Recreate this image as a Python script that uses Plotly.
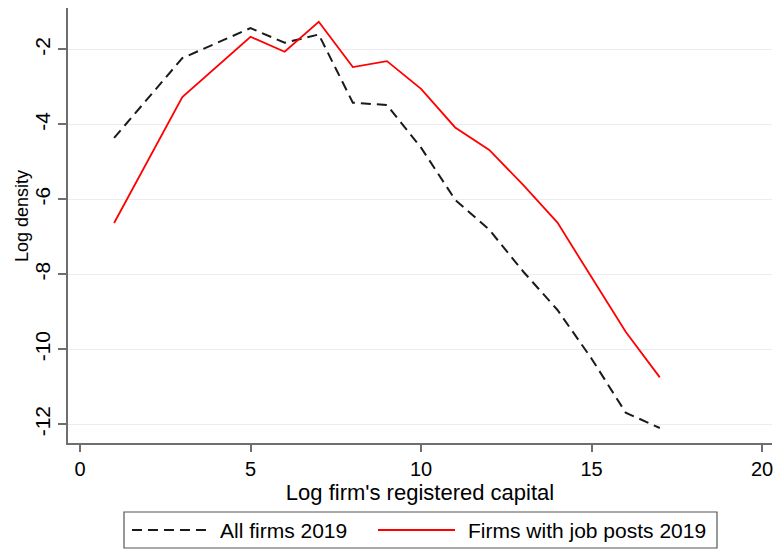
import plotly.graph_objects as go

# ---- data ----
x_all = [1, 3, 5, 6, 7, 8, 9, 10, 11, 12, 13, 14, 15, 16, 17]
y_all = [-4.36, -2.23, -1.43, -1.82, -1.60, -3.42, -3.48, -4.62, -6.01, -6.81,
         -7.93, -8.95, -10.25, -11.69, -12.10]

x_job = [1, 3, 5, 6, 7, 8, 9, 10, 11, 12, 13, 14, 15, 16, 17]
y_job = [-6.63, -3.27, -1.66, -2.06, -1.26, -2.47, -2.31, -3.05, -4.08, -4.68,
         -5.62, -6.62, -8.08, -9.53, -10.75]

name_all = "All firms 2019"
name_job = "Firms with job posts 2019"

x_ticks = [0, 5, 10, 15, 20]
y_ticks = [-2, -4, -6, -8, -10, -12]

FONT = "Liberation Sans, Arial, sans-serif"
AXIS_COL = "#6e6e6e"
GRID_COL = "#ebebf0"

fig = go.Figure()
fig.add_trace(go.Scatter(x=x_all, y=y_all, mode="lines", name=name_all,
                         line=dict(color="#1a1a1a", width=2, dash="10px,6px"),
                         showlegend=False))
fig.add_trace(go.Scatter(x=x_job, y=y_job, mode="lines", name=name_job,
                         line=dict(color="#ff0000", width=1.8),
                         showlegend=False))

# ---- manual legend (Stata style box at the bottom) ----
L, R, T, B = 68, 772, 8, 443
W, H = R - L, B - T
def px(xp):
    return (xp - L) / W
def py(yp):
    return (B - yp) / H

fig.add_shape(type="rect", xref="paper", yref="paper",
              x0=px(124), x1=px(717), y0=py(548), y1=py(512),
              line=dict(color="#555555", width=1.2), fillcolor="white")
fig.add_shape(type="line", xref="paper", yref="paper",
              x0=px(132), x1=px(208), y0=py(530), y1=py(530),
              line=dict(color="#1a1a1a", width=2, dash="10px,6px"))
fig.add_shape(type="line", xref="paper", yref="paper",
              x0=px(378), x1=px(455), y0=py(530), y1=py(530),
              line=dict(color="#ff0000", width=1.8))
fig.add_annotation(xref="paper", yref="paper", x=px(218), y=py(530),
                   xanchor="left", yanchor="middle", text=name_all,
                   showarrow=False, font=dict(size=21, color="black", family=FONT))
fig.add_annotation(xref="paper", yref="paper", x=px(466), y=py(530),
                   xanchor="left", yanchor="middle", text=name_job,
                   showarrow=False, font=dict(size=21, color="black", family=FONT))

# y-axis title placed as Stata does
fig.add_annotation(xref="paper", yref="paper", x=px(22), y=py(216),
                   xanchor="center", yanchor="middle", text="Log density",
                   textangle=-90, showarrow=False,
                   font=dict(size=18, color="black", family=FONT))

fig.update_layout(
    width=774, height=550,
    margin=dict(l=L, r=774 - R, t=T, b=550 - B),
    paper_bgcolor="white", plot_bgcolor="white",
    font=dict(family=FONT, color="black"),
    showlegend=False,
)
fig.update_xaxes(
    range=[-0.352, 20.29], tickvals=x_ticks, ticktext=[str(v) for v in x_ticks],
    showgrid=False, zeroline=False,
    showline=True, linecolor=AXIS_COL, linewidth=1.5,
    ticks="outside", ticklen=7, tickwidth=1.5, tickcolor=AXIS_COL,
    tickfont=dict(size=20, color="black"),
    title=dict(text="Log firm's registered capital", font=dict(size=22), standoff=1),
    automargin=False,
)
fig.update_yaxes(
    range=[-12.5, -0.893], tickvals=y_ticks, ticktext=[str(v) for v in y_ticks],
    showgrid=True, gridcolor=GRID_COL, gridwidth=1.2, zeroline=False,
    showline=True, linecolor=AXIS_COL, linewidth=1.5,
    ticks="outside", ticklen=8, tickwidth=1.5, tickcolor=AXIS_COL,
    tickangle=-90, tickfont=dict(size=21, color="black"),
    automargin=False,
)

fig.write_html("out.html")
